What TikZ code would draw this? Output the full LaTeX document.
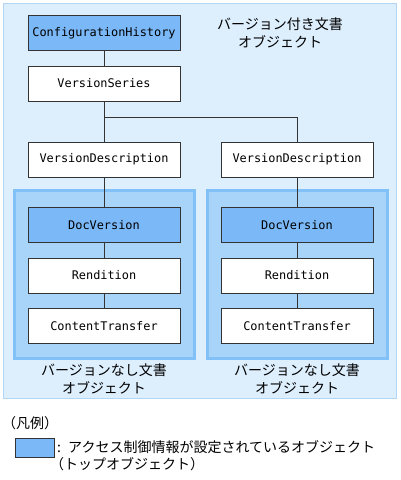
\documentclass[tikz,border=0pt]{standalone}
\usepackage{fontspec}
\newfontfamily\jpfont{Noto Sans CJK JP}
\newfontfamily\boxfont{DejaVu Sans Mono}
\usetikzlibrary{backgrounds, positioning}
\definecolor{outerfill}{HTML}{DDEEFD}
\definecolor{outerline}{HTML}{B2D6F6}
\definecolor{groupfill}{HTML}{A9D4FA}
\definecolor{groupline}{HTML}{82C0F8}
\definecolor{topfill}{HTML}{7AB8F8}
\definecolor{darkline}{HTML}{333333}
\tikzset{
    objbox/.style={draw=darkline, fill=white, line width=1pt, minimum width=152pt,
        minimum height=35pt, inner sep=0pt, font=\boxfont\fontsize{11.9}{14}\selectfont},
    topbox/.style={objbox, fill=topfill},
    grouparea/.style={draw=groupline, fill=groupfill, line width=3pt},
    jplabel/.style={inner sep=0pt, align=center, font=\jpfont\fontsize{14}{18}\selectfont},
    link/.style={draw=darkline, line width=1pt}
}
\begin{document}
\begin{tikzpicture}[x=1pt, y=-1pt]
    \useasboundingbox (0,0) rectangle (400,480);
    \def \L {104}
    \def \R {297}
    % upper part
    \node[topbox] (ch) at (\L,33) {ConfigurationHistory};
    \node[objbox] (vs) at (\L,83.5) {VersionSeries};
    \node[objbox] (vd1) at (\L,159.5) {VersionDescription};
    \node[objbox] (vd2) at (\R,159.5) {VersionDescription};
    \node[jplabel] (vtitle) at (280,33) {バージョン付き文書\\オブジェクト};
    % non-versioned documents
    \foreach \x/\s in {\L/1,\R/2}{
        \node[topbox] (dv\s) at (\x,225) {DocVersion};
        \node[objbox] (rn\s) at (\x,275.5) {Rendition};
        \node[objbox] (ct\s) at (\x,326) {ContentTransfer};
        \node[jplabel] (nvtitle\s) at (\x,379) {バージョンなし文書\\オブジェクト};
    }
    \coordinate (split) at (\L,117);
    \draw[link] (ch.south) -- (vs.north);
    \draw[link] (vs.south) -- (vd1.north);
    \draw[link] (split) -| (vd2.north);
    \foreach \s in {1,2}{
        \draw[link] (vd\s.south) -- (dv\s.north);
        \draw[link] (dv\s.south) -- (rn\s.north);
        \draw[link] (rn\s.south) -- (ct\s.north);
    }
    \begin{scope}[on background layer]
    \draw[draw=outerline, fill=outerfill, line width=1pt] (3,3) rectangle (396,398);
    \draw[grouparea] (14,190) rectangle (194,358);
    \draw[grouparea] (207,190) rectangle (387,358);
    \end{scope}
    % legend
    \node[jplabel, anchor=west] (legend) at (2,423) {（凡例）};
    \node[draw=darkline, fill=topfill, line width=1pt, minimum width=39pt, minimum height=19pt,
        inner sep=0pt] (legbox) at (34.5,447.5) {};
    \node[jplabel, anchor=west] (legtext) at (57,447) {\makebox[11pt][l]{:}アクセス制御情報が設定されているオブジェクト};
    \node[jplabel, anchor=west] (legtext2) at (50,464) {（トップオブジェクト）};
\end{tikzpicture}
\end{document}
